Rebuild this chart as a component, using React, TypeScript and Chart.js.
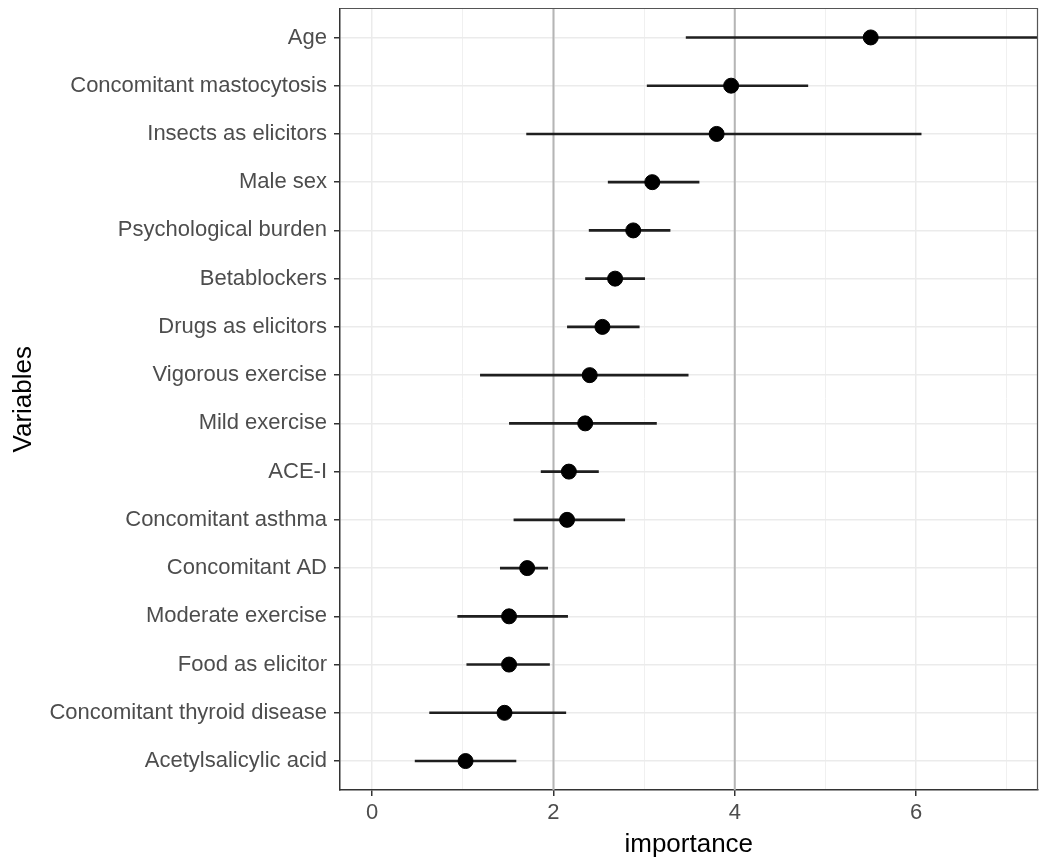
import { useEffect, useRef } from "react";
import { Chart, registerables } from "chart.js";

Chart.register(...registerables);

// variables, top to bottom
const VARIABLES = [
  "Age",
  "Concomitant mastocytosis",
  "Insects as elicitors",
  "Male sex",
  "Psychological burden",
  "Betablockers",
  "Drugs as elicitors",
  "Vigorous exercise",
  "Mild exercise",
  "ACE-I",
  "Concomitant asthma",
  "Concomitant AD",
  "Moderate exercise",
  "Food as elicitor",
  "Concomitant thyroid disease",
  "Acetylsalicylic acid",
];
const IMPORTANCE = [5.5, 3.96, 3.8, 3.09, 2.88, 2.68, 2.54, 2.4, 2.35, 2.17, 2.15, 1.71, 1.51, 1.51, 1.46, 1.03];
const LOWER = [3.46, 3.03, 1.7, 2.6, 2.39, 2.35, 2.15, 1.19, 1.51, 1.86, 1.56, 1.41, 0.94, 1.04, 0.63, 0.47];
const UPPER = [7.6, 4.81, 6.06, 3.61, 3.29, 3.01, 2.95, 3.49, 3.14, 2.5, 2.79, 1.94, 2.16, 1.96, 2.14, 1.59];
const X_TICKS = [0, 1, 2, 3, 4, 5, 6, 7];
const REF_LINES = [2, 4];

const FONT = "'Liberation Sans', Arial, Helvetica, sans-serif";

const panelBorder = {
  id: "panelBorder",
  afterDatasetsDraw(chart: Chart) {
    const { ctx, chartArea } = chart;
    ctx.save();
    ctx.strokeStyle = "#555";
    ctx.lineWidth = 1.2;
    ctx.beginPath();
    ctx.moveTo(chartArea.left, chartArea.top);
    ctx.lineTo(chartArea.right, chartArea.top);
    ctx.lineTo(chartArea.right, chartArea.bottom);
    ctx.stroke();
    ctx.restore();
  },
};

export default function App() {
  const canvasRef = useRef<HTMLCanvasElement>(null);

  useEffect(() => {
    const canvas = canvasRef.current;
    if (!canvas) return;

    const points = {
      type: "scatter" as const,
      data: IMPORTANCE.map((v, i) => ({ x: v, y: i + 1 })),
      backgroundColor: "#000",
      borderColor: "#000",
      pointRadius: 7.5,
      pointBorderWidth: 1,
      showLine: false,
    };
    const bars = VARIABLES.map((_, i) => ({
      type: "line" as const,
      data: [
        { x: LOWER[i], y: i + 1 },
        { x: UPPER[i], y: i + 1 },
      ],
      borderColor: "#1f1f1f",
      borderWidth: 2.6,
      pointRadius: 0,
    }));
    const refs = REF_LINES.map((x) => ({
      type: "line" as const,
      data: [
        { x, y: 0.4 },
        { x, y: VARIABLES.length + 0.6 },
      ],
      borderColor: "#b5b5b5",
      borderWidth: 2,
      pointRadius: 0,
    }));

    const chart = new Chart(canvas.getContext("2d")!, {
      type: "scatter",
      data: { datasets: [points, ...bars, ...refs] as any },
      plugins: [panelBorder],
      options: {
        responsive: false,
        animation: false,
        layout: { padding: { left: 0, top: 7, right: 7, bottom: 0 } },
        plugins: { legend: { display: false }, tooltip: { enabled: false } },
        scales: {
          x: {
            type: "linear",
            min: -0.355,
            max: 7.34,
            afterBuildTicks: (scale: any) => {
              scale.ticks = X_TICKS.map((value) => ({ value }));
            },
            afterFit: (scale: any) => {
              scale.height = 76;
              scale.paddingLeft = 0;
              scale.paddingRight = 0;
            },
            ticks: {
              autoSkip: false,
              padding: 4,
              color: "#4d4d4d",
              font: { family: FONT, size: 22 },
              callback: (v: any) => (Number(v) % 2 === 0 ? String(v) : ""),
            },
            grid: {
              color: (c: any) => (c.tick && c.tick.value % 2 === 0 ? "#ebebeb" : "#f0f0f0"),
              lineWidth: (c: any) => (c.tick && c.tick.value % 2 === 0 ? 1.5 : 1),
              tickColor: (c: any) => (c.tick && c.tick.value % 2 === 0 ? "#333" : "rgba(0,0,0,0)"),
              tickWidth: 1.5,
              tickLength: 6,
            },
            border: { color: "#333", width: 1.5 },
            title: {
              display: true,
              text: "importance",
              color: "#000",
              font: { family: FONT, size: 26 },
              padding: { top: 4, bottom: 6 },
            },
          },
          y: {
            type: "linear",
            reverse: true,
            min: 0.4,
            max: VARIABLES.length + 0.6,
            afterBuildTicks: (scale: any) => {
              scale.ticks = VARIABLES.map((_, i) => ({ value: i + 1 }));
            },
            afterFit: (scale: any) => {
              scale.width = 340;
              scale.paddingTop = 0;
              scale.paddingBottom = 0;
            },
            ticks: {
              autoSkip: false,
              padding: 7,
              color: "#4d4d4d",
              font: { family: FONT, size: 22 },
              callback: (v: any) => VARIABLES[Number(v) - 1] ?? "",
            },
            grid: {
              color: "#ebebeb",
              lineWidth: 1.5,
              tickColor: "#333",
              tickWidth: 1.5,
              tickLength: 6,
            },
            border: { color: "#333", width: 1.5 },
            title: {
              display: true,
              text: "Variables",
              color: "#000",
              font: { family: FONT, size: 26 },
              padding: { top: 8, bottom: 0 },
            },
          },
        },
      },
    });

    return () => chart.destroy();
  }, []);

  return (
    <div style={{ position: "absolute", left: 0, top: 0, width: 1046, height: 866, background: "#fff" }}>
      <canvas ref={canvasRef} width={1046} height={866} style={{ display: "block" }} />
    </div>
  );
}
